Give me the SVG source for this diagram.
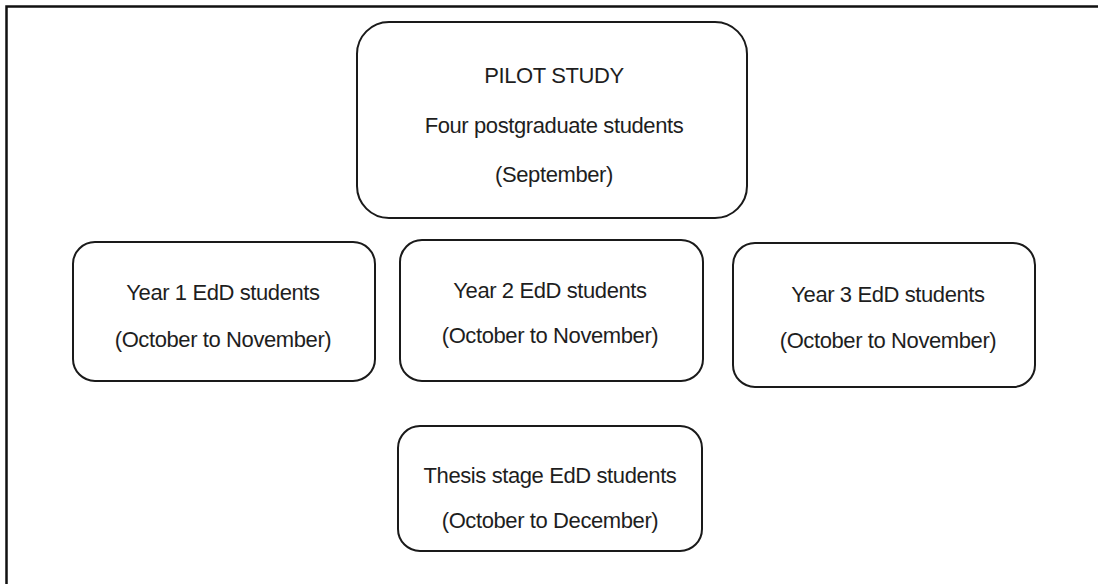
<svg xmlns="http://www.w3.org/2000/svg" width="1098" height="584" viewBox="0 0 1098 584">
  <style>
    .box { fill: #ffffff; stroke: #1a1a1a; stroke-width: 2; }
    .label { font-family: "Liberation Sans", Arial, sans-serif; font-size: 22px; letter-spacing: -0.4px; fill: #1e1e1e; text-anchor: middle; }
    .frame { fill: none; stroke: #111111; stroke-width: 2.5; }
  </style>
  <rect width="1098" height="584" fill="#ffffff"/>
  <!-- outer frame: left and top edges only -->
  <path class="frame" d="M6.5,584 V6.5 H1098"/>

  <g id="pilot">
    <rect class="box" x="357" y="22" width="390" height="196" rx="32"/>
    <text class="label" x="554" y="83">PILOT STUDY</text>
    <text class="label" x="554" y="133">Four postgraduate students</text>
    <text class="label" x="554" y="182">(September)</text>
  </g>

  <g id="year1">
    <rect class="box" x="73" y="242" width="302" height="139" rx="22"/>
    <text class="label" x="223" y="300">Year 1 EdD students</text>
    <text class="label" x="223" y="347">(October to November)</text>
  </g>

  <g id="year2">
    <rect class="box" x="400" y="240" width="303" height="141" rx="22"/>
    <text class="label" x="550" y="298">Year 2 EdD students</text>
    <text class="label" x="550" y="343">(October to November)</text>
  </g>

  <g id="year3">
    <rect class="box" x="733" y="243" width="302" height="144" rx="22"/>
    <text class="label" x="888" y="302">Year 3 EdD students</text>
    <text class="label" x="888" y="348">(October to November)</text>
  </g>

  <g id="thesis">
    <rect class="box" x="398" y="426" width="304" height="125" rx="22"/>
    <text class="label" x="550" y="483">Thesis stage EdD students</text>
    <text class="label" x="550" y="528">(October to December)</text>
  </g>

  <g id="connectors"></g>
</svg>
